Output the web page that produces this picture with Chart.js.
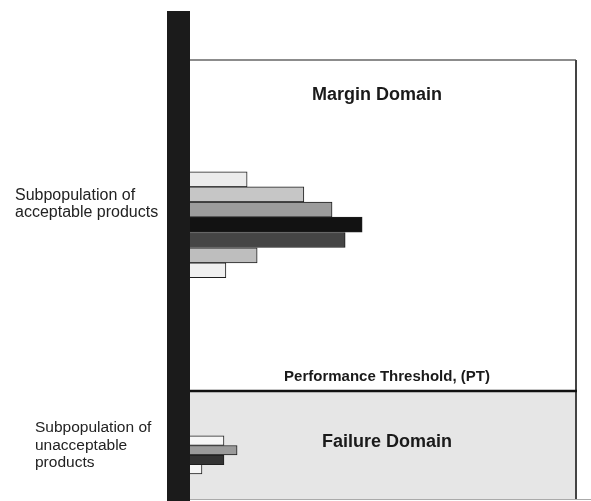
<!DOCTYPE html>
<html>
<head>
<meta charset="utf-8">
<script src="https://cdn.jsdelivr.net/npm/chart.js@4.4.0/dist/chart.umd.min.js"></script>
<style>
  html, body { margin: 0; padding: 0; background: #fff; }
  #wrap { width: 591px; height: 501px; position: relative; }
</style>
</head>
<body>
<div id="wrap"><canvas id="domainChart"></canvas></div>
<script>
// performance level (y) and relative frequency (x) of each histogram bar
var upperLevels = [72.8, 69.4, 65.9, 62.5, 59.0, 55.5, 52.1];
var upperCounts = [14.8, 29.5, 36.8, 44.6, 40.2, 17.4, 9.3];
var upperShades = ['#ececec', '#c6c6c6', '#9c9c9c', '#121212', '#454545', '#bebebe', '#f0f0f0'];

var lowerLevels = [13.3, 11.1, 8.9, 6.8];
var lowerCounts = [8.8, 12.2, 8.8, 3.1];
var lowerShades = ['#f6f6f6', '#9a9a9a', '#333333', '#f6f6f6'];

var thresholdLevel = 24.6;

var labels = {
  margin: 'Margin Domain',
  threshold: 'Performance Threshold, (PT)',
  failure: 'Failure Domain',
  accept: ['Subpopulation of', 'acceptable products'],
  reject: ['Subpopulation of', 'unacceptable', 'products']
};

function points(levels, counts) {
  return levels.map(function (lv, i) { return { x: counts[i], y: lv }; });
}

var domainPlugin = {
  id: 'domains',
  beforeDatasetsDraw: function (chart) {
    var c = chart.ctx, a = chart.chartArea;
    var ty = chart.scales.y.getPixelForValue(thresholdLevel);
    c.save();
    // failure domain fill
    c.fillStyle = '#e6e6e6';
    c.fillRect(a.left, ty, a.right - a.left, a.bottom - ty);
    c.restore();
  },
  afterDatasetsDraw: function (chart) {
    var c = chart.ctx, a = chart.chartArea;
    var ty = chart.scales.y.getPixelForValue(thresholdLevel);
    c.save();
    // frame
    c.strokeStyle = '#666';
    c.lineWidth = 1.5;
    c.beginPath();
    c.moveTo(a.left, a.top);
    c.lineTo(a.right, a.top);
    c.stroke();
    c.strokeStyle = '#444';
    c.lineWidth = 2;
    c.beginPath();
    c.moveTo(a.right, a.top);
    c.lineTo(a.right, a.bottom + 1);
    c.stroke();
    c.strokeStyle = '#aaa';
    c.lineWidth = 1;
    c.beginPath();
    c.moveTo(a.left, a.bottom + 0.5);
    c.lineTo(chart.width, a.bottom + 0.5);
    c.stroke();
    // threshold
    c.strokeStyle = '#111';
    c.lineWidth = 2.5;
    c.beginPath();
    c.moveTo(a.left, ty);
    c.lineTo(a.right + 1, ty);
    c.stroke();
    // thick black axis bar
    c.fillStyle = '#1b1b1b';
    c.fillRect(a.left - 23, 11, 23, chart.height - 11);

    // texts
    c.fillStyle = '#1a1a1a';
    c.textAlign = 'center';
    c.textBaseline = 'middle';
    c.font = 'bold 18px "Liberation Sans", Arial, sans-serif';
    c.fillText(labels.margin, 377, 95);
    c.fillText(labels.failure, 387, 442);
    c.font = 'bold 15px "Liberation Sans", Arial, sans-serif';
    c.fillText(labels.threshold, 387, 377);

    c.textAlign = 'left';
    c.font = '16px "Liberation Sans", Arial, sans-serif';
    c.fillStyle = '#222';
    labels.accept.forEach(function (t, i) { c.fillText(t, 15, 196 + i * 17); });
    c.font = '15.5px "Liberation Sans", Arial, sans-serif';
    labels.reject.forEach(function (t, i) { c.fillText(t, 35, 428 + i * 17.5); });
    c.restore();
  }
};

var ctx = document.getElementById('domainChart').getContext('2d');
var chart = new Chart(ctx, {
  type: 'bar',
  data: {
    datasets: [{
      data: points(upperLevels, upperCounts),
      backgroundColor: upperShades,
      borderColor: '#1e1e1e',
      borderWidth: 1,
      borderSkipped: 'start',
      barThickness: 15
    }, {
      data: points(lowerLevels, lowerCounts),
      backgroundColor: lowerShades,
      borderColor: '#1e1e1e',
      borderWidth: 1,
      borderSkipped: 'start',
      barThickness: 9.5
    }]
  },
  options: {
    indexAxis: 'y',
    responsive: true,
    maintainAspectRatio: false,
    animation: false,
    grouped: false,
    layout: { padding: { left: 190, right: 15, top: 60, bottom: 2 } },
    plugins: {
      legend: { display: false },
      tooltip: { enabled: false }
    },
    scales: {
      x: { type: 'linear', min: 0, max: 100, display: false, offset: false },
      y: { type: 'linear', min: 0, max: 100, display: false, offset: false }
    }
  },
  plugins: [domainPlugin]
});
</script>
</body>
</html>
